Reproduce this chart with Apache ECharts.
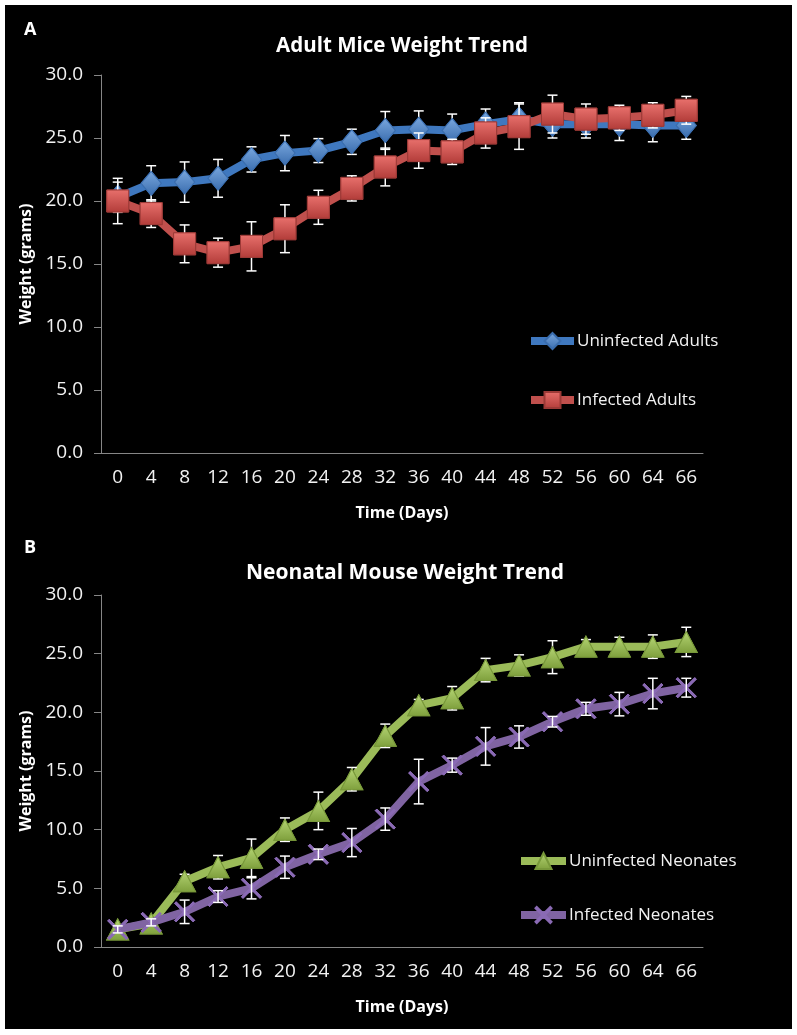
<!DOCTYPE html>
<html>
<head>
<meta charset="utf-8">
<script src="https://cdn.jsdelivr.net/npm/echarts@6/dist/echarts.min.js"></script>
<style>
  html, body { margin:0; padding:0; background:#ffffff; }
  #bg { position:absolute; left:5px; top:5px; width:787px; height:1024px; background:#000; }
  #chart { position:absolute; left:0; top:0; width:797px; height:1035px; }
</style>
</head>
<body>
<div id="bg"></div>
<div id="chart"></div>
<script>
const days = ['0','4','8','12','16','20','24','28','32','36','40','44','48','52','56','60','64','66'];
const yTicks = [0, 5, 10, 15, 20, 25, 30];

const uninfAdult    = [20.3, 21.4, 21.5, 21.8, 23.3, 23.8, 24.0, 24.7, 25.6, 25.7, 25.6, 26.1, 26.5, 26.1, 26.1, 26.1, 26.0, 26.0];
const uninfAdultErr = [1.2, 1.4, 1.6, 1.5, 1.0, 1.4, 0.95, 1.0, 1.5, 1.45, 1.3, 1.2, 1.3, 1.1, 1.1, 1.3, 1.3, 1.1];
const infAdult      = [20.0, 19.0, 16.6, 15.9, 16.4, 17.8, 19.5, 21.0, 22.7, 24.0, 23.9, 25.4, 25.9, 26.9, 26.5, 26.6, 26.8, 27.2];
const infAdultErr   = [1.8, 1.1, 1.5, 1.15, 1.95, 1.9, 1.35, 1.0, 1.5, 1.4, 1.0, 1.2, 1.8, 1.5, 1.2, 1.0, 1.0, 1.1];

const uninfNeo      = [1.5, 2.0, 5.6, 6.8, 7.6, 10.0, 11.6, 14.3, 18.0, 20.6, 21.2, 23.6, 24.0, 24.7, 25.6, 25.6, 25.6, 26.0];
const uninfNeoErr   = [0.4, 0.4, 0.6, 1.0, 1.6, 1.0, 1.6, 1.0, 1.0, 0.5, 1.0, 1.0, 0.9, 1.4, 0.6, 0.8, 1.0, 1.25];
const infNeo        = [1.5, 2.1, 3.0, 4.3, 5.0, 6.8, 7.9, 8.9, 10.9, 14.1, 15.5, 17.1, 17.9, 19.2, 20.3, 20.7, 21.6, 22.1];
const infNeoErr     = [0.3, 0.3, 1.0, 0.5, 0.9, 0.95, 0.45, 1.2, 0.95, 1.9, 0.6, 1.6, 0.95, 0.45, 0.55, 1.0, 1.3, 0.8];

const FONT = '"Open Sans", "Noto Sans", sans-serif';
const chart = echarts.init(document.getElementById('chart'), null, {renderer:'canvas'});

function grad(c1, c2) {
  return new echarts.graphic.LinearGradient(0, 0, 0, 1, [{offset:0, color:c1}, {offset:1, color:c2}]);
}
const xPath = 'path://M0,1.5 L1.5,0 L10,8.5 L18.5,0 L20,1.5 L11.5,10 L20,18.5 L18.5,20 L10,11.5 L1.5,20 L0,18.5 L8.5,10 Z';

function errSeries(idx, vals, errs, z) {
  return {
    type: 'custom', xAxisIndex: idx, yAxisIndex: idx, z: z, silent: true,
    data: vals.map((v, i) => [i, v, errs[i]]),
    renderItem: function (params, api) {
      const x = api.value(0), y = api.value(1), e = api.value(2);
      const t = api.coord([x, y + e]);
      const b = api.coord([x, y - e]);
      const hw = 5;
      const st = {stroke:'#ffffff', lineWidth:1.5};
      return {type:'group', children:[
        {type:'line', shape:{x1:t[0], y1:t[1], x2:b[0], y2:b[1]}, style:st},
        {type:'line', shape:{x1:t[0]-hw, y1:t[1], x2:t[0]+hw, y2:t[1]}, style:st},
        {type:'line', shape:{x1:b[0]-hw, y1:b[1], x2:b[0]+hw, y2:b[1]}, style:st}
      ]};
    }
  };
}

function lineSeries(idx, name, vals, lineColor, symbol, size, fill, border, z) {
  return {
    type:'line', name:name, xAxisIndex:idx, yAxisIndex:idx, z:z,
    data: vals, symbol: symbol, symbolSize: size, showSymbol: true,
    lineStyle: {color: lineColor, width: 8},
    itemStyle: {color: fill, borderColor: border, borderWidth: 1},
    emphasis: {disabled: true}
  };
}
function markerSeries(idx, vals, symbol, size, fill, border, z) {
  return {
    type:'scatter', xAxisIndex:idx, yAxisIndex:idx, z:z, silent:true,
    data: vals.map((v, i) => [i, v]), symbol: symbol, symbolSize: size,
    itemStyle: {color: fill, borderColor: border, borderWidth: 1, opacity: 1}
  };
}

const blueFill = grad('#79A7DE', '#3A6DAE');
const redFill = grad('#E8706C', '#B23C39');
const greenFill = grad('#B5D574', '#7E9F3C');
const purpleFill = '#8A6AB4';

function xAxis(idx) {
  return {
    type:'category', gridIndex: idx, data: days, boundaryGap: true,
    axisLine: {show:true, lineStyle:{color:'#868686', width:1}},
    axisTick: {show:false},
    axisLabel: {color:'#F2F2F2', fontFamily: FONT, fontSize: 19, margin: 15},
    splitLine: {show:false},
    name: 'Time (Days)', nameLocation: 'middle', nameGap: 52,
    nameTextStyle: {color:'#FFFFFF', fontFamily: FONT, fontSize: 16, fontWeight: 'bold'}
  };
}
function yAxis(idx) {
  return {
    type:'value', gridIndex: idx, min: yTicks[0], max: yTicks[yTicks.length-1], interval: 5,
    axisLine: {show:true, lineStyle:{color:'#868686', width:1}},
    axisTick: {show:true, inside:false, length:7, lineStyle:{color:'#868686'}},
    axisLabel: {color:'#F2F2F2', fontFamily: FONT, fontSize: 19, margin: 18,
                formatter: v => v.toFixed(1)},
    splitLine: {show:false},
    name: 'Weight (grams)', nameLocation: 'middle', nameGap: 62, nameRotate: 90,
    nameTextStyle: {color:'#FFFFFF', fontFamily: FONT, fontSize: 16, fontWeight: 'bold'}
  };
}

const txt = (x, y, text, size, align) => ({
  type:'text', x:x, y:y, z: 10,
  style:{text:text, fill:'#FFFFFF', font:'bold ' + size + 'px ' + FONT, align: align, verticalAlign:'middle'}
});

const legendBase = {
  orient:'vertical', itemHeight: 20,
  lineStyle: {width: 8, cap: 'butt'},
  textStyle:{color:'#F2F2F2', fontFamily: FONT, fontSize: 17, padding:[0,0,0,-2]}
};

const option = {
  animation: false,
  backgroundColor: 'transparent',
  graphic: [
    txt(24, 30, 'A', 18, 'left'),
    txt(402, 46, 'Adult Mice Weight Trend', 20.5, 'center'),
    txt(24, 548, 'B', 18, 'left'),
    txt(405, 573, 'Neonatal Mouse Weight Trend', 21, 'center')
  ],
  grid: [
    {left: 101, top: 75, width: 602, height: 378},
    {left: 101, top: 595, width: 602, height: 352}
  ],
  xAxis: [xAxis(0), xAxis(1)],
  yAxis: [yAxis(0), yAxis(1)],
  legend: [
    Object.assign({}, legendBase, {data:['Uninfected Adults', 'Infected Adults'], left: 522, top: 327, itemGap: 41, itemWidth: 43}),
    Object.assign({}, legendBase, {data:['Uninfected Neonates', 'Infected Neonates'], left: 512, top: 847, itemGap: 36, itemWidth: 45})
  ],
  series: [
    lineSeries(0, 'Uninfected Adults', uninfAdult, '#3F78BF', 'diamond', [20, 24], blueFill, '#3A6DAE', 2),
    errSeries(0, uninfAdult, uninfAdultErr, 3),
    markerSeries(0, uninfAdult, 'diamond', [20, 24], blueFill, '#3A6DAE', 4),
    lineSeries(0, 'Infected Adults', infAdult, '#C0504D', 'rect', 22, redFill, '#9C3A37', 5),
    errSeries(0, infAdult, infAdultErr, 6),
    markerSeries(0, infAdult, 'rect', 22, redFill, '#9C3A37', 7),

    lineSeries(1, 'Uninfected Neonates', uninfNeo, '#9BBB59', 'triangle', [22, 21], greenFill, '#78983A', 2),
    errSeries(1, uninfNeo, uninfNeoErr, 3),
    markerSeries(1, uninfNeo, 'triangle', [22, 21], greenFill, '#78983A', 4),
    lineSeries(1, 'Infected Neonates', infNeo, '#8064A2', xPath, 20, purpleFill, purpleFill, 5),
    markerSeries(1, infNeo, xPath, 20, purpleFill, purpleFill, 6),
    errSeries(1, infNeo, infNeoErr, 7)
  ]
};
chart.setOption(option);
</script>
</body>
</html>
